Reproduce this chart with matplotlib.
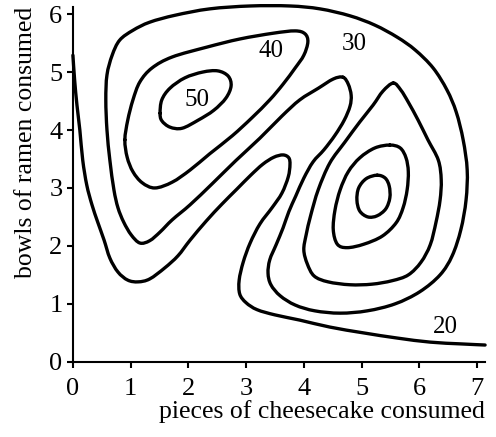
import matplotlib
matplotlib.use("Agg")
import matplotlib.pyplot as plt
from matplotlib.path import Path
from matplotlib.patches import PathPatch

plt.rcParams['font.family'] = ['Liberation Serif', 'DejaVu Serif']

# contour 20 (open line, from y axis to right edge)
x20 = [0.00, 0.03, 0.07, 0.12, 0.17, 0.24, 0.33, 0.43, 0.54, 0.64, 0.78, 0.95, 1.13, 1.33,
       1.59, 1.82, 2.03, 2.31, 2.58, 2.84, 3.08, 3.29, 3.48, 3.64, 3.74, 3.76, 3.73, 3.62,
       3.45, 3.24, 3.07, 2.95, 2.88, 2.89, 3.00, 3.19, 3.50, 3.93, 4.45, 5.03, 5.62, 6.19,
       6.71, 7.14]
y20 = [5.29, 4.86, 4.43, 4.00, 3.48, 3.05, 2.71, 2.41, 2.10, 1.79, 1.55, 1.41, 1.38, 1.43,
       1.62, 1.83, 2.10, 2.43, 2.72, 2.98, 3.22, 3.41, 3.53, 3.57, 3.52, 3.40, 3.19, 2.91,
       2.66, 2.38, 2.05, 1.72, 1.41, 1.17, 1.02, 0.90, 0.81, 0.72, 0.60, 0.50, 0.41, 0.34,
       0.31, 0.29]

# contour 30 (one closed loop around both peaks)
x30 = [4.68, 4.77, 4.82, 4.80, 4.70, 4.54, 4.35, 4.16, 4.00, 3.86, 3.74, 3.64, 3.52, 3.41,
       3.38, 3.43, 3.59, 3.85, 4.19, 4.63, 5.10, 5.58, 6.01, 6.36, 6.57, 6.72, 6.81, 6.83,
       6.76, 6.64, 6.48, 6.24, 5.93, 5.62, 5.23, 4.80, 4.28, 3.76, 3.07, 2.37, 1.77, 1.33,
       1.04, 0.81, 0.68, 0.59, 0.57, 0.59, 0.64, 0.71, 0.78, 0.88, 1.01, 1.16, 1.33, 1.51,
       1.72, 2.03, 2.41, 2.82, 3.24, 3.62, 3.93, 4.25, 4.51, 4.68]
y30 = [4.91, 4.79, 4.60, 4.41, 4.17, 3.91, 3.66, 3.45, 3.17, 2.86, 2.59, 2.31, 2.02, 1.76,
       1.53, 1.33, 1.14, 0.98, 0.88, 0.84, 0.88, 1.00, 1.21, 1.50, 1.83, 2.28, 2.79, 3.31,
       3.83, 4.31, 4.69, 5.07, 5.38, 5.60, 5.81, 5.97, 6.09, 6.14, 6.14, 6.09, 5.98, 5.86,
       5.72, 5.55, 5.29, 4.95, 4.52, 4.00, 3.48, 2.97, 2.66, 2.41, 2.19, 2.05, 2.09, 2.24,
       2.45, 2.71, 3.07, 3.47, 3.86, 4.24, 4.52, 4.72, 4.88, 4.91]

# contour 40 around the left peak
x40 = [0.90, 0.95, 1.04, 1.16, 1.37, 1.72, 2.32, 2.89, 3.47, 3.85, 4.02, 4.07, 4.00, 3.85,
       3.64, 3.41, 3.10, 2.76, 2.37, 2.03, 1.72, 1.42, 1.20, 1.04, 0.94, 0.90]
y40 = [3.83, 4.17, 4.52, 4.83, 5.07, 5.26, 5.43, 5.57, 5.67, 5.71, 5.66, 5.52, 5.29, 5.07,
       4.79, 4.52, 4.21, 3.90, 3.59, 3.31, 3.10, 3.00, 3.09, 3.28, 3.53, 3.83]

# contour 50 around the left peak
x50 = [1.51, 1.54, 1.68, 1.94, 2.25, 2.51, 2.69, 2.74, 2.65, 2.44, 2.17, 1.89, 1.68, 1.54, 1.51]
y50 = [4.29, 4.52, 4.72, 4.90, 5.00, 5.02, 4.93, 4.76, 4.55, 4.34, 4.17, 4.03, 4.05, 4.16, 4.29]

# rings around the right peak, outer to inner
xr1 = [5.55, 5.68, 5.81, 5.98, 6.15, 6.33, 6.38, 6.36, 6.29, 6.19, 6.03, 5.81, 5.53, 5.18,
       4.80, 4.42, 4.18, 4.06, 4.00, 4.04, 4.12, 4.25, 4.45, 4.71, 4.97, 5.20, 5.37, 5.55]
yr1 = [4.81, 4.69, 4.48, 4.17, 3.83, 3.48, 3.14, 2.79, 2.41, 2.02, 1.72, 1.50, 1.40, 1.34,
       1.33, 1.38, 1.48, 1.69, 1.93, 2.19, 2.53, 2.97, 3.43, 3.79, 4.14, 4.43, 4.67, 4.81]
xr2 = [5.49, 5.67, 5.77, 5.81, 5.79, 5.72, 5.60, 5.36, 5.04, 4.75, 4.58, 4.51, 4.54, 4.63,
       4.77, 4.97, 5.23, 5.49]
yr2 = [3.74, 3.69, 3.52, 3.28, 2.97, 2.66, 2.40, 2.17, 2.03, 1.97, 2.03, 2.28, 2.62, 2.97,
       3.28, 3.52, 3.69, 3.74]
xr3 = [5.27, 5.41, 5.48, 5.49, 5.42, 5.27, 5.11, 4.97, 4.92, 4.95, 5.08, 5.27]
yr3 = [3.22, 3.17, 3.03, 2.83, 2.64, 2.52, 2.50, 2.60, 2.79, 3.00, 3.16, 3.22]

labels = ["50", "40", "30", "20"]
label_x = [2.15, 3.43, 4.87, 6.45]
label_y = [4.52, 5.36, 5.48, 0.60]


def smooth_path(xs, ys, closed):
    # bezier segments through the read points (catmull-rom style handles)
    pts = list(zip(xs, ys))
    if closed:
        pts = pts[:-1]
    n = len(pts)
    verts = [pts[0]]
    codes = [Path.MOVETO]
    segs = n if closed else n - 1
    for i in range(segs):
        if closed:
            p0, p1, p2, p3 = pts[(i - 1) % n], pts[i], pts[(i + 1) % n], pts[(i + 2) % n]
        else:
            p0, p1, p2, p3 = pts[max(i - 1, 0)], pts[i], pts[i + 1], pts[min(i + 2, n - 1)]
        c1 = (p1[0] + (p2[0] - p0[0]) / 6, p1[1] + (p2[1] - p0[1]) / 6)
        c2 = (p2[0] - (p3[0] - p1[0]) / 6, p2[1] - (p3[1] - p1[1]) / 6)
        verts += [c1, c2, p2]
        codes += [Path.CURVE4] * 3
    return Path(verts, codes)


fig = plt.figure(figsize=(4.96, 4.37), dpi=100)
ax = fig.add_axes([0.147, 0.172, 0.831, 0.813])

curves = [(x20, y20, False), (x30, y30, True), (x40, y40, True), (x50, y50, True),
          (xr1, yr1, True), (xr2, yr2, True), (xr3, yr3, True)]
for xs, ys, closed in curves:
    ax.add_patch(PathPatch(smooth_path(xs, ys, closed), fill=False, edgecolor='black',
                           lw=2.4, clip_on=False, joinstyle='round', capstyle='round'))

for t, lx, ly in zip(labels, label_x, label_y):
    ax.text(lx, ly, t, fontsize=18, ha='center', va='center')

ax.set_xlim(0, 7.14)
ax.set_ylim(0, 6.13)
ax.set_xticks(range(8))
ax.set_yticks(range(7))
ax.spines['top'].set_visible(False)
ax.spines['right'].set_visible(False)
ax.spines['left'].set_linewidth(1.5)
ax.spines['bottom'].set_linewidth(1.5)
ax.tick_params(direction='out', length=4.5, width=1.5, labelsize=19)
ax.tick_params(axis='x', pad=7)
ax.tick_params(axis='y', pad=3)
ax.set_xlabel("pieces of cheesecake consumed", fontsize=18.5, loc='right', labelpad=0)
ax.set_ylabel("bowls of ramen consumed", fontsize=18.5, loc='top', labelpad=9)

fig.savefig("out.png", dpi=100)
